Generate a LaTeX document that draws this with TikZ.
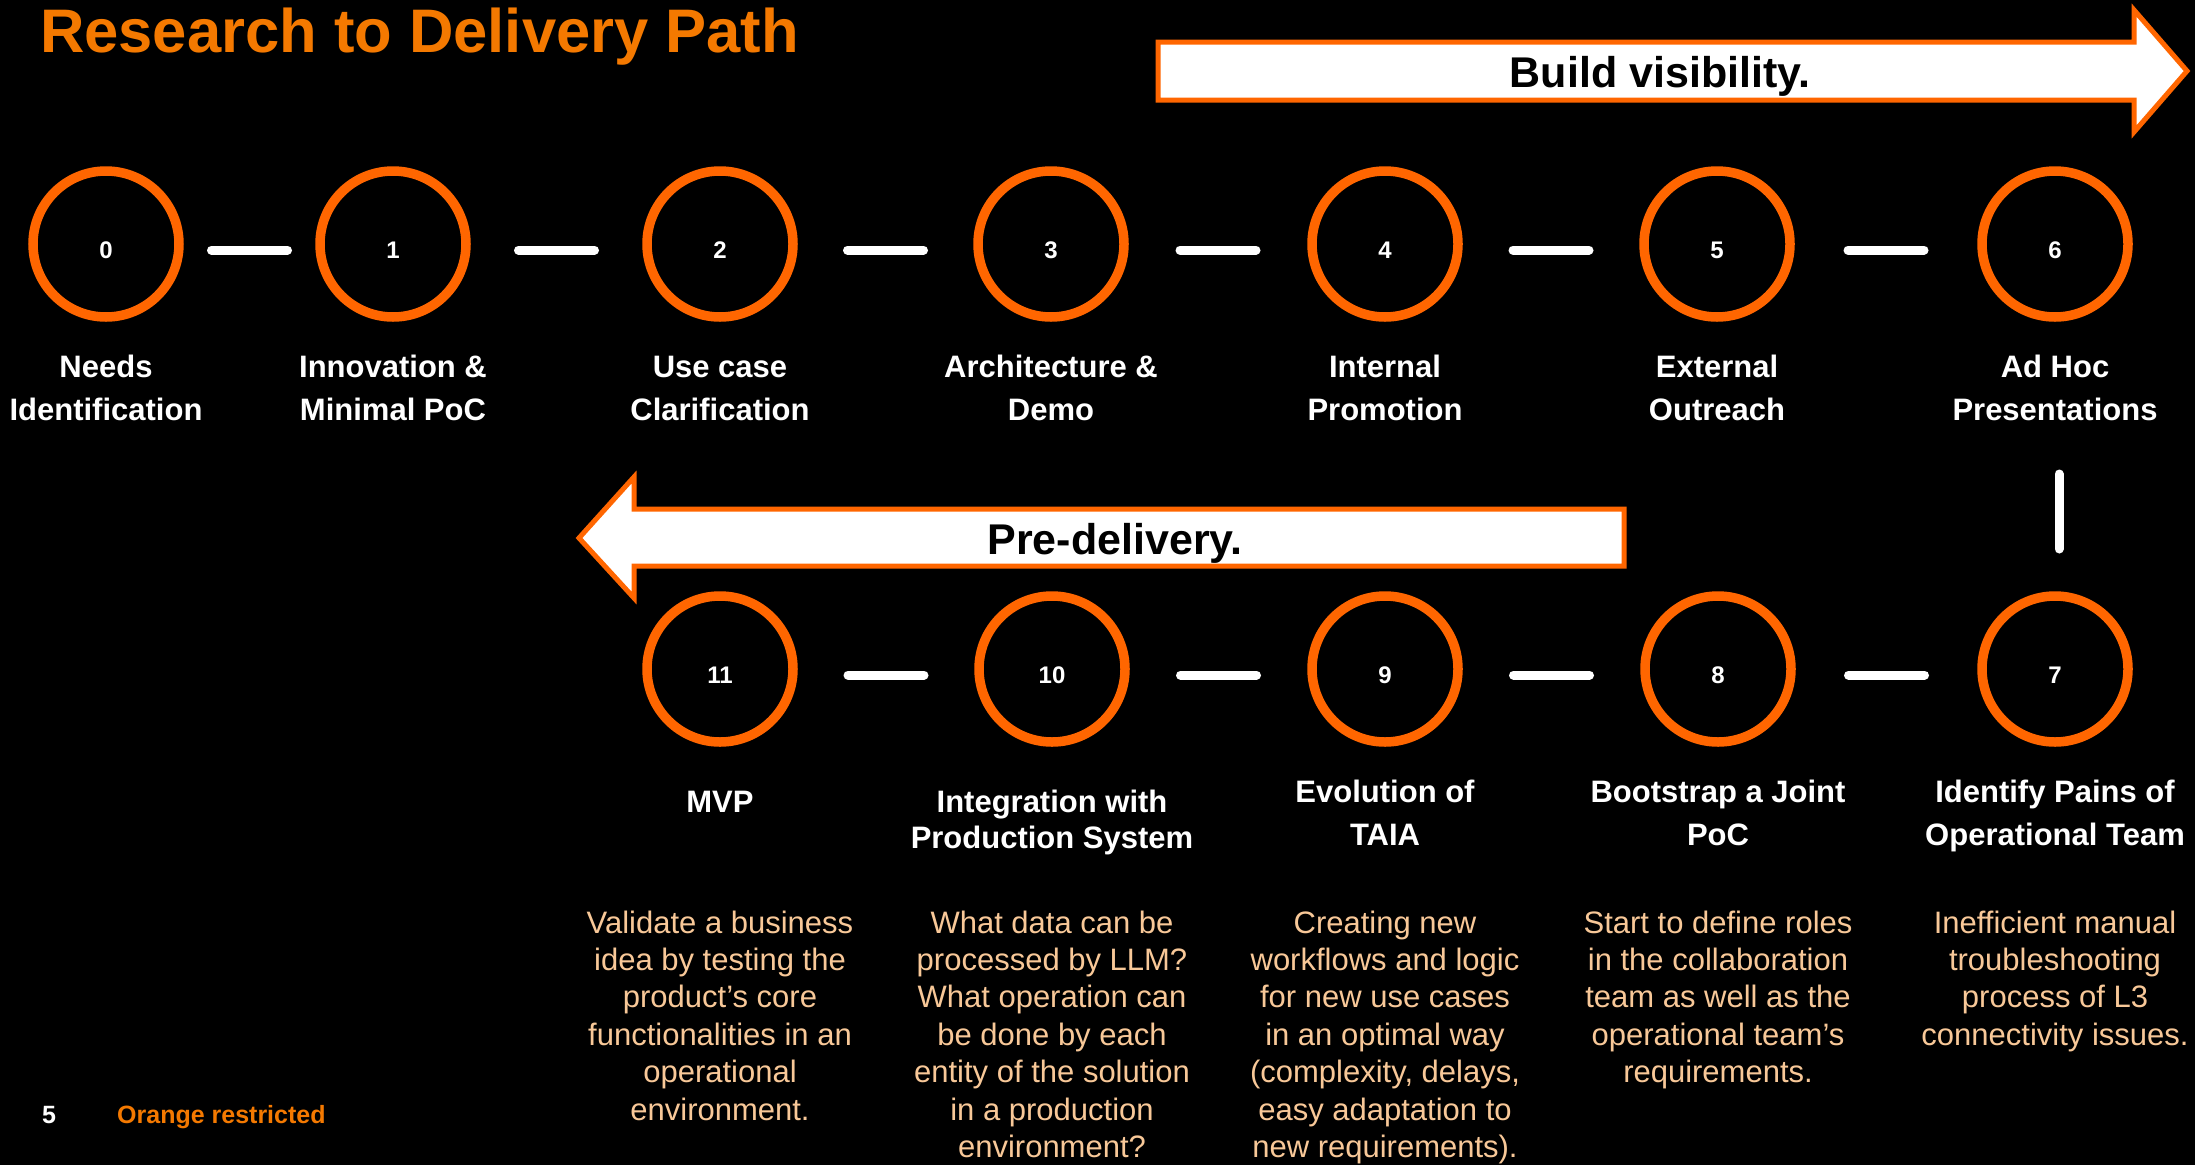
\documentclass[tikz,border=0pt]{standalone}
\usepackage{fontspec}
\setmainfont{Liberation Sans}
\usetikzlibrary{calc}
\definecolor{orgC}{HTML}{FF6600}
\definecolor{orgT}{HTML}{F47900}
\definecolor{peach}{HTML}{F8C898}
\newcommand\mylines[1]{\begin{tabular}[t]{@{}c@{}}#1\end{tabular}}
\begin{document}
\begin{tikzpicture}[x=1pt,y=-1pt,
  stepcircle/.style={circle,draw=orgC,line width=9.5pt,minimum size=146pt,inner sep=0pt},
  numtxt/.style={inner sep=0pt,text=white,font=\bfseries\fontsize{24}{28}\selectfont},
  lbl/.style={anchor=base,inner sep=0pt,text=white,font=\bfseries\fontsize{31}{43}\selectfont},
  lbltight/.style={anchor=base,inner sep=0pt,text=white,font=\bfseries\fontsize{31}{36}\selectfont},
  desc/.style={anchor=base,inner sep=0pt,text=peach,font=\fontsize{31}{37.4}\selectfont},
  linkline/.style={draw=white,line width=9pt,line cap=round},
  arrowshape/.style={fill=white,draw=orgC,line width=5pt,line join=miter},
  arrtxt/.style={anchor=base,inner sep=0pt,text=black,font=\bfseries\fontsize{43}{50}\selectfont}]
\fill[black] (0,0) rectangle (2195,1165);
\useasboundingbox (0,0) rectangle (2195,1165);

% title
\node[anchor=base west,inner sep=0pt,text=orgT,font=\bfseries\fontsize{61.5}{70}\selectfont] (title) at (40,52) {Research to Delivery Path};

% big arrows
\draw[arrowshape] (1158,42) -- (2134,42) -- (2134,10) -- (2187,71) -- (2134,132) -- (2134,100) -- (1158,100) -- cycle;
\node[arrtxt] (bv) at (1660,87) {Build visibility.};
\draw[arrowshape] (1624,509) -- (634,509) -- (634,477) -- (579,538) -- (634,598) -- (634,566) -- (1624,566) -- cycle;
\node[arrtxt] (pd) at (1115,554) {Pre-delivery.};

% circles
\foreach \i/\x in {0/106,1/393,2/720,3/1051,4/1385,5/1717,6/2055} {
  \node[stepcircle] (c\i) at (\x,244) {};
  \node[numtxt] (n\i) at (\x,250) {\i};
}
\foreach \i/\x in {7/2055,8/1718,9/1385,10/1052,11/720} {
  \node[stepcircle] (c\i) at (\x,669) {};
  \node[numtxt] (n\i) at (\x,675) {\i};
}

% connectors
\foreach \a/\b in {0/1,1/2,2/3,3/4,4/5,5/6,7/8,8/9,9/10,10/11}
  \draw[linkline] ($($(n\a)!0.5!(n\b)$)+(-38,0)$) -- ($($(n\a)!0.5!(n\b)$)+(38,0)$);
\coordinate (v1) at (2059,474);
\coordinate (v2) at (2059,549);
\draw[linkline] (v1) -- (v2);

% row 1 labels
\node[lbl] (l0) at (106,377) {\mylines{Needs\\Identification}};
\node[lbl] (l1) at (393,377) {\mylines{Innovation \&\\Minimal PoC}};
\node[lbl] (l2) at (720,377) {\mylines{Use case\\Clarification}};
\node[lbl] (l3) at (1051,377) {\mylines{Architecture \&\\Demo}};
\node[lbl] (l4) at (1385,377) {\mylines{Internal\\Promotion}};
\node[lbl] (l5) at (1717,377) {\mylines{External\\Outreach}};
\node[lbl] (l6) at (2055,377) {\mylines{Ad Hoc\\Presentations}};

% row 2 labels
\node[lbl] (l11) at (720,812) {MVP};
\node[lbltight] (l10) at (1052,812) {\mylines{Integration with\\Production System}};
\node[lbl] (l9) at (1385,802) {\mylines{Evolution of\\TAIA}};
\node[lbl] (l8) at (1718,802) {\mylines{Bootstrap a Joint\\PoC}};
\node[lbl] (l7) at (2055,802) {\mylines{Identify Pains of\\Operational Team}};

% descriptions
\node[desc] (d11) at (720,933) {\mylines{Validate a business\\idea by testing the\\product’s core\\functionalities in an\\operational\\environment.}};
\node[desc] (d10) at (1052,933) {\mylines{What data can be\\processed by LLM?\\What operation can\\be done by each\\entity of the solution\\in a production\\environment?}};
\node[desc] (d9) at (1385,933) {\mylines{Creating new\\workflows and logic\\for new use cases\\in an optimal way\\(complexity, delays,\\easy adaptation to\\new requirements).}};
\node[desc] (d8) at (1718,933) {\mylines{Start to define roles\\in the collaboration\\team as well as the\\operational team’s\\requirements.}};
\node[desc] (d7) at (2055,933) {\mylines{Inefficient manual\\troubleshooting\\process of L3\\connectivity issues.}};

% footer
\node[anchor=base west,inner sep=0pt,text=white,font=\bfseries\fontsize{25}{30}\selectfont] (pg) at (42,1123) {5};
\node[anchor=base west,inner sep=0pt,text=orgT,font=\bfseries\fontsize{25}{30}\selectfont] (cls) at (117,1123) {Orange restricted};
\end{tikzpicture}
\end{document}
